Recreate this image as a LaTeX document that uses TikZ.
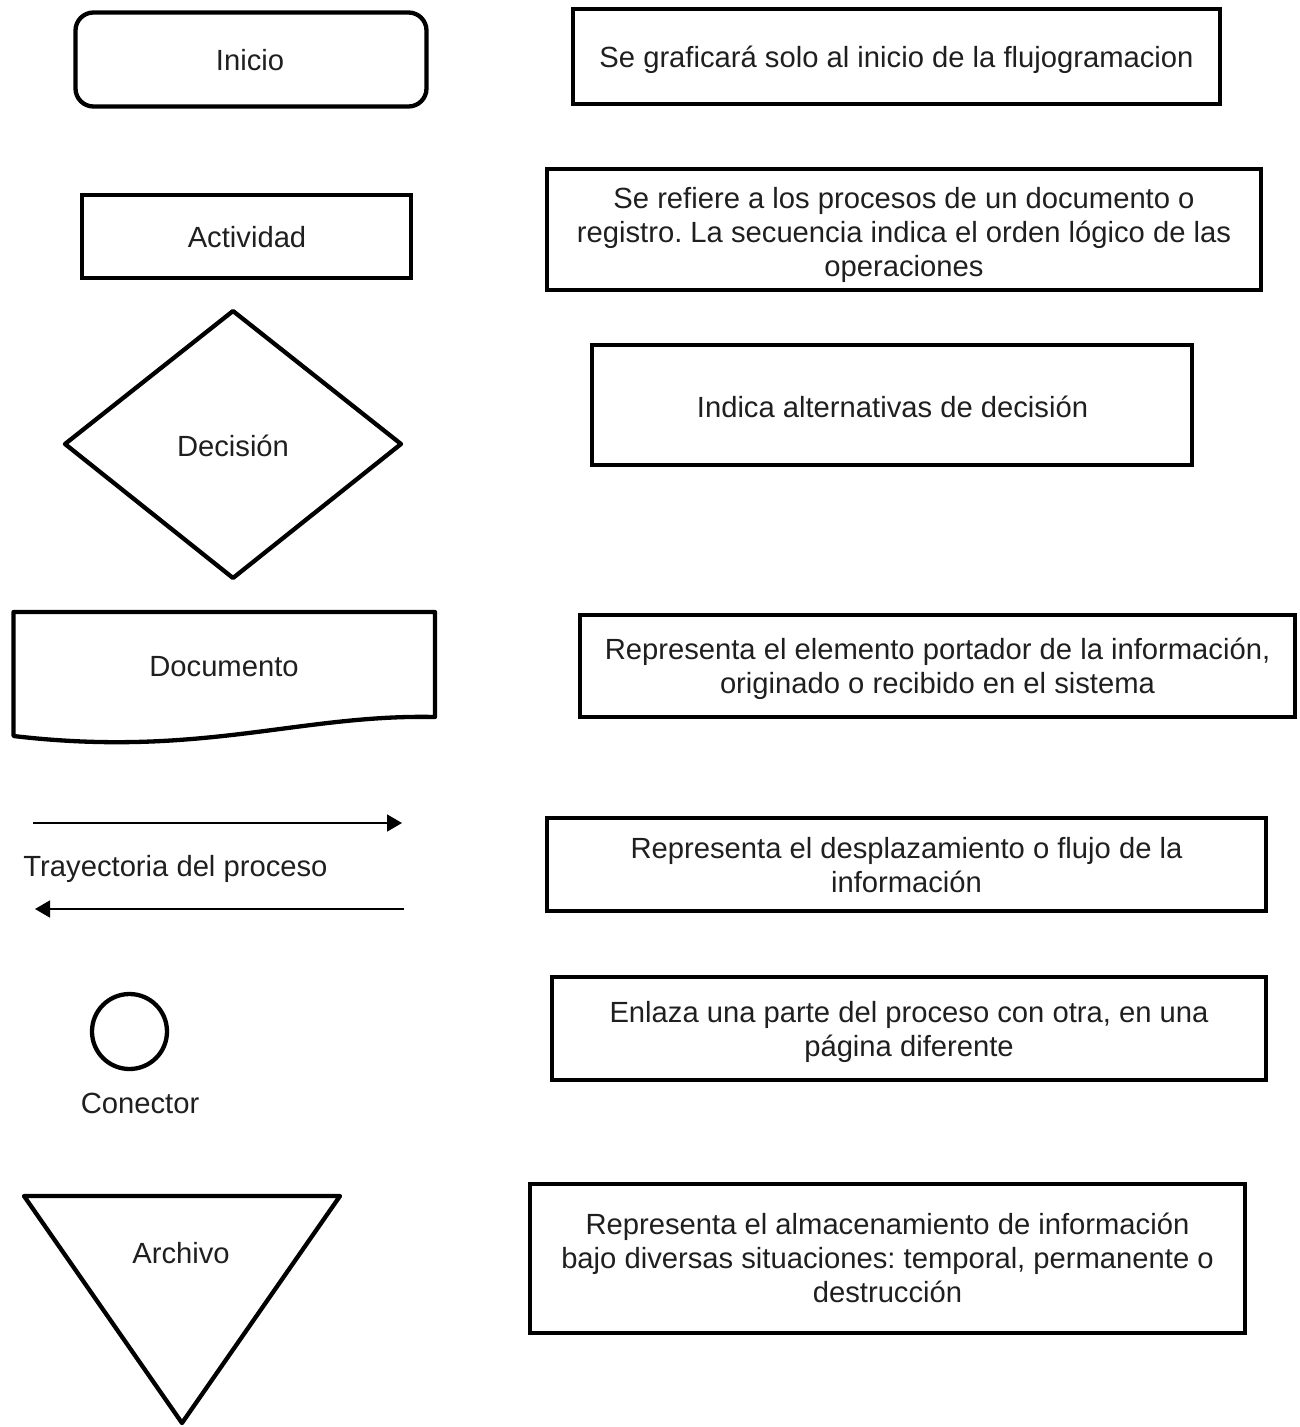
\documentclass[tikz,border=0pt]{standalone}
\usepackage{fontspec}
\setmainfont{Liberation Sans}
\usetikzlibrary{arrows.meta}
\frenchspacing
\begin{document}
\begin{tikzpicture}[x=1pt,y=-1pt,
  shapeline/.style={draw=black, line width=4.3pt},
  descbox/.style={draw=black, line width=4.3pt, rectangle, inner sep=0pt, outer sep=0pt},
  lbl/.style={font=\fontsize{29.2}{34}\selectfont, text=black!88, inner sep=0pt, anchor=base, align=center},
  flow/.style={line width=1.6pt, -{Triangle[length=15pt,width=17pt]}}]
\useasboundingbox (0,0) rectangle (1299,1427);

% ---------- left symbols ----------
\node[descbox, rounded corners=18pt, minimum width=351pt, minimum height=94pt] (inicio) at (251,59.5) {};
\node[lbl] (tinicio) at (250,70) {Inicio};

\node[descbox, minimum width=329pt, minimum height=83pt] (activ) at (246.5,236.5) {};
\node[lbl] (tactiv) at (247,247.5) {Actividad};

\draw[shapeline, line join=round] (233,311) -- (401,444) -- (233,578) -- (65,444) -- cycle;
\node[lbl] (tdec) at (233,456) {Decisión};

\draw[shapeline, line join=round] (13.5,736) -- (13.5,612) -- (435,612) -- (435,717)
   .. controls (300,714) and (200,758) .. (13.5,736) -- cycle;
\node[lbl] (tdoc) at (224,676) {Documento};

\coordinate (a1s) at (33,823);
\coordinate (a1e) at (402,823);
\coordinate (a2s) at (404,909);
\coordinate (a2e) at (35,909);
\draw[flow] (a1s) -- (a1e);
\draw[flow] (a2s) -- (a2e);
\node[lbl] (ttray) at (175.5,876) {Trayectoria del proceso};

\node[draw=black, line width=4.3pt, circle, minimum size=75pt, inner sep=0pt] (con) at (129.5,1031.5) {};
\node[lbl] (tcon) at (140,1113) {Conector};

\draw[shapeline, line join=round] (24,1196) -- (340,1196) -- (182,1423) -- cycle;
\node[lbl] (tarch) at (181,1263) {Archivo};

% ---------- description boxes (multi-line texts anchored at last baseline) ----------
\node[descbox, minimum width=647pt, minimum height=95pt] (b1) at (896.5,56.5) {};
\node[lbl] (t1) at (896.5,67) {Se graficará solo al inicio de la flujogramacion};

\node[descbox, minimum width=714pt, minimum height=121pt] (b2) at (904,229.5) {};
\node[lbl] (t2) at (904,276) {Se refiere a los procesos de un documento o\\registro. La secuencia indica el orden lógico de las\\operaciones};

\node[descbox, minimum width=600pt, minimum height=120pt] (b3) at (892,405) {};
\node[lbl] (t3) at (892.5,417) {Indica alternativas de decisión};

\node[descbox, minimum width=715pt, minimum height=102pt] (b4) at (937.5,666) {};
\node[lbl] (t4) at (937.5,693) {Representa el elemento portador de la información,\\originado o recibido en el sistema};

\node[descbox, minimum width=719pt, minimum height=93pt] (b5) at (906.5,864.5) {};
\node[lbl] (t5) at (906.5,892) {Representa el desplazamiento o flujo de la\\información};

\node[descbox, minimum width=714pt, minimum height=103pt] (b6) at (909,1028.5) {};
\node[lbl] (t6) at (909,1056) {Enlaza una parte del proceso con otra, en una\\página diferente};

\node[descbox, minimum width=715pt, minimum height=149pt] (b7) at (887.5,1258.5) {};
\node[lbl] (t7) at (887.5,1302) {Representa el almacenamiento de información\\bajo diversas situaciones: temporal, permanente o\\destrucción};
\end{tikzpicture}
\end{document}
